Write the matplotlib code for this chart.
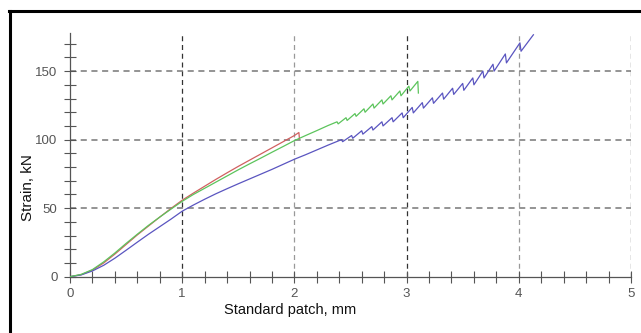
import matplotlib
matplotlib.use("Agg")
import matplotlib.pyplot as plt
from matplotlib.lines import Line2D
from matplotlib.ticker import MultipleLocator

# ---------------- data ----------------
red_x = [0, 0.1, 0.2, 0.3, 0.4, 0.5, 0.6, 0.7, 0.8, 0.9, 1.0, 1.1, 1.2, 1.3, 1.4, 1.5,
         1.6, 1.7, 1.8, 1.9, 2.0, 2.04, 2.045]
red_y = [0, 1.5, 4.8, 10.0, 16.5, 23.5, 30.5, 37.0, 43.5, 49.8, 55.8, 61.0, 66.0, 71.0,
         75.8, 80.5, 85.0, 89.5, 94.0, 98.5, 103.0, 105.2, 100.5]

green_x = [0, 0.1, 0.2, 0.3, 0.4, 0.5, 0.6, 0.7, 0.8, 0.9, 1.0, 1.1, 1.2, 1.3, 1.4, 1.5,
           1.6, 1.7, 1.8, 1.9, 2.0, 2.1, 2.2, 2.3,
           2.38, 2.39, 2.46, 2.47, 2.54, 2.55, 2.62, 2.63, 2.70, 2.71, 2.78, 2.79,
           2.86, 2.87, 2.94, 2.95, 3.02, 3.03, 3.10, 3.105]
green_y = [0, 1.7, 5.2, 10.8, 17.3, 24.3, 31.0, 37.5, 43.5, 49.3, 55.0, 60.0, 64.5, 69.0,
           73.5, 78.0, 82.3, 86.5, 90.8, 95.0, 99.3, 103.0, 106.6, 110.3,
           113.0, 111.5, 116.0, 114.0, 119.0, 117.0, 122.5, 120.0, 126.0, 123.0,
           129.0, 126.0, 132.0, 129.0, 135.5, 132.0, 139.0, 135.5, 142.5, 134.0]

blue_x = [0, 0.1, 0.2, 0.3, 0.4, 0.5, 0.6, 0.7, 0.8, 0.9, 1.0, 1.1, 1.2, 1.3, 1.4, 1.5,
          1.6, 1.7, 1.8, 1.9, 2.0, 2.1, 2.2, 2.3,
          2.42, 2.43, 2.51, 2.52, 2.60, 2.61, 2.69, 2.70, 2.78, 2.79, 2.87, 2.88,
          2.96, 2.97, 3.05, 3.06, 3.14, 3.15, 3.23, 3.24, 3.32, 3.33, 3.41, 3.42,
          3.50, 3.51, 3.59, 3.60, 3.68, 3.69, 3.77, 3.78, 3.88, 3.89, 4.01, 4.02, 4.13]
blue_y = [0, 1.3, 4.2, 8.3, 13.5, 19.3, 25.2, 31.0, 36.5, 42.0, 47.8, 52.3, 56.5, 60.5,
          64.2, 67.8, 71.3, 74.8, 78.3, 82.0, 85.7, 89.0, 92.5, 96.0,
          100.0, 98.5, 103.0, 101.0, 106.5, 104.0, 109.5, 107.0, 113.0, 110.0,
          116.0, 113.0, 119.5, 116.0, 123.5, 119.5, 127.0, 123.0, 130.5, 126.5,
          134.0, 129.5, 137.5, 133.0, 141.0, 136.0, 145.0, 140.0, 150.0, 145.0,
          155.0, 150.0, 162.5, 156.0, 170.6, 164.5, 176.5]

x_ticks = [0, 1, 2, 3, 4, 5]
y_ticks = [0, 50, 100, 150]
x_label = "Standard patch, mm"
y_label = "Strain, kN"

# ---------------- figure ----------------
W, H = 641, 333
fig = plt.figure(figsize=(W / 100, H / 100), dpi=100)
ax = fig.add_axes([70 / W, 1 - 276.7 / H, 561 / W, (276.7 - 33) / H])

ax.set_xlim(0, 5)
ax.set_ylim(0, 177.8)

# grid
for v in [1, 2, 3, 4, 5]:
    col = "#333333" if v % 2 == 1 else "#999999"
    ax.axvline(v, color=col, lw=0.9, ls=(0, (4, 3)), zorder=1)
for v in [50, 100, 150]:
    ax.axhline(v, color="#777777", lw=1.1, ls=(0, (4, 3)), zorder=1)

ax.plot(blue_x, blue_y, color="#5a55c0", lw=0.9, zorder=3)
ax.plot(green_x, green_y, color="#5cc45c", lw=0.9, zorder=4)
ax.plot(red_x, red_y, color="#d06060", lw=0.9, zorder=2)

for s in ["top", "right"]:
    ax.spines[s].set_visible(False)
for s in ["left", "bottom"]:
    ax.spines[s].set_color("#555555")
    ax.spines[s].set_linewidth(0.9)

ax.set_xticks(x_ticks)
ax.set_yticks(y_ticks)
ax.xaxis.set_minor_locator(MultipleLocator(0.2))
ax.yaxis.set_minor_locator(MultipleLocator(10))
ax.tick_params(axis="both", which="both", direction="inout", length=8,
               width=0.8, color="#555555")
ax.tick_params(axis="both", which="major", labelsize=9.5, labelcolor="#555555")
ax.tick_params(axis="x", which="major", pad=4)
ax.tick_params(axis="y", which="major", pad=5)
for lab in ax.get_xticklabels() + ax.get_yticklabels():
    lab.set_fontfamily(["Liberation Sans Narrow", "Liberation Sans", "DejaVu Sans"])

fig.text(290 / W, 1 - 310 / H, x_label, ha="center", va="center", fontsize=10.5,
         family=["Liberation Sans", "DejaVu Sans"], color="#111111")
fig.text(28 / W, 1 - 188 / H, y_label, ha="center", va="center", fontsize=11,
         rotation=90, family=["Liberation Sans", "DejaVu Sans"], color="#111111")

# outer frame (top and left edges)
fig.add_artist(Line2D([8.5 / W, 1.0], [1 - 10.5 / H, 1 - 10.5 / H], color="black",
                      lw=2.2, transform=fig.transFigure))
fig.add_artist(Line2D([9.5 / W, 9.5 / W], [0.0, 1 - 10.5 / H], color="black",
                      lw=2.2, transform=fig.transFigure))

fig.savefig("out.png", dpi=100)
